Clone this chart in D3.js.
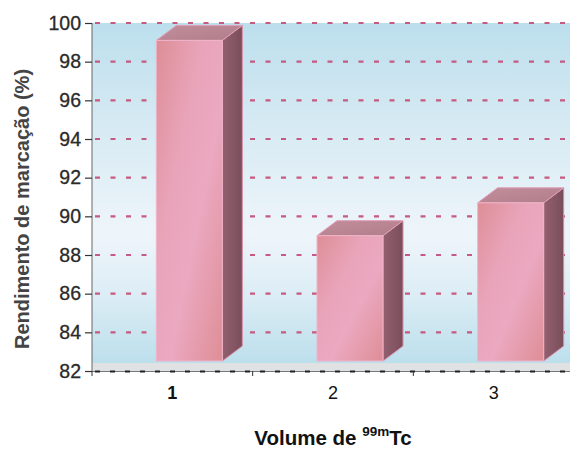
<!DOCTYPE html>
<html>
<head>
<meta charset="utf-8">
<script src="https://cdn.jsdelivr.net/npm/d3@7"></script>
<style>
  html, body { margin: 0; padding: 0; background: #ffffff; }
  svg { display: block; }
</style>
</head>
<body>
<svg id="chart" width="570" height="449"></svg>
<script>
// Labelling yield by 99mTc volume
const categories = ["1", "2", "3"];
const yieldValues = [99.1, 89.0, 90.7];
const yTicks = [82, 84, 86, 88, 90, 92, 94, 96, 98, 100];

(function () {
const svg = d3.select("#chart");
const W = 570, H = 449;
const plotLeft = 92, plotRight = 574, plotTop = 23, plotBottom = 371;
const font = "Arial, 'Liberation Sans', sans-serif";

const x = d3.scaleBand().domain(categories).range([plotLeft, plotRight]).paddingInner(0).paddingOuter(0);
const y = d3.scaleLinear().domain([82, 100]).range([plotBottom, plotTop]);

const depthX = 20, depthY = 15, floorGap = 10;
const barW = 66, barShift = -16;

const defs = svg.append("defs");

// plot background: blue at top, pale in the middle, blue again at the floor
const bg = defs.append("linearGradient").attr("id", "bg").attr("x1", 0).attr("y1", 0).attr("x2", 0).attr("y2", 1);
[[0, "#bcdfed"], [0.3, "#d6eaf3"], [0.62, "#eef5fa"], [0.8, "#dcedf5"], [1, "#bcdfec"]]
  .forEach(([o, c]) => bg.append("stop").attr("offset", o).attr("stop-color", c));

const front = defs.append("linearGradient").attr("id", "front").attr("x1", 0).attr("y1", 0).attr("x2", 1).attr("y2", 1);
[[0, "#dd8e96"], [0.35, "#e9a4ba"], [0.6, "#eba8c0"], [1, "#de8e96"]]
  .forEach(([o, c]) => front.append("stop").attr("offset", o).attr("stop-color", c));

const side = defs.append("linearGradient").attr("id", "side").attr("x1", 0).attr("y1", 0).attr("x2", 1).attr("y2", 0);
[[0, "#93606f"], [1, "#7a4d5b"]]
  .forEach(([o, c]) => side.append("stop").attr("offset", o).attr("stop-color", c));

const topG = defs.append("linearGradient").attr("id", "topface").attr("x1", 0).attr("y1", 0).attr("x2", 1).attr("y2", 1);
[[0, "#c38e9b"], [1, "#b07d8a"]]
  .forEach(([o, c]) => topG.append("stop").attr("offset", o).attr("stop-color", c));

// background panel
svg.append("rect")
  .attr("x", plotLeft).attr("y", plotTop)
  .attr("width", W - plotLeft).attr("height", plotBottom - floorGap + 2 - plotTop)
  .attr("fill", "url(#bg)");

// floor strip
svg.append("rect")
  .attr("x", plotLeft).attr("y", plotBottom - floorGap + 2)
  .attr("width", W - plotLeft).attr("height", floorGap - 2)
  .attr("fill", "#dfe1e3");

// dashed gridlines
svg.append("g")
  .selectAll("line")
  .data(yTicks.filter(t => t > 82))
  .join("line")
  .attr("x1", plotLeft + 3).attr("x2", W)
  .attr("y1", d => y(d)).attr("y2", d => y(d))
  .attr("stroke", "#c65a80")
  .attr("stroke-width", 2.2)
  .attr("stroke-dasharray", "5 10.5");

// 3D bars
const bars = svg.append("g").selectAll("g").data(categories.map((c, i) => ({ c, v: yieldValues[i] }))).join("g");
const base = plotBottom - floorGap;

bars.append("path") // side face
  .attr("d", d => {
    const x0 = x(d.c) + x.bandwidth() / 2 + barShift + barW, yt = y(d.v);
    return `M${x0},${yt}L${x0 + depthX},${yt - depthY}L${x0 + depthX},${base - depthY}L${x0},${base}Z`;
  })
  .attr("fill", "url(#side)")
  .attr("stroke", "#d98ea8").attr("stroke-width", 1);

bars.append("path") // top face
  .attr("d", d => {
    const x0 = x(d.c) + x.bandwidth() / 2 + barShift, yt = y(d.v);
    return `M${x0},${yt}L${x0 + depthX},${yt - depthY}L${x0 + barW + depthX},${yt - depthY}L${x0 + barW},${yt}Z`;
  })
  .attr("fill", "url(#topface)")
  .attr("stroke", "#e0a0b8").attr("stroke-width", 1);

bars.append("rect") // front face
  .attr("x", d => x(d.c) + x.bandwidth() / 2 + barShift)
  .attr("y", d => y(d.v))
  .attr("width", barW)
  .attr("height", d => base - y(d.v))
  .attr("fill", "url(#front)")
  .attr("stroke", "#f0b4ca").attr("stroke-width", 1);

// y axis
const yAxis = svg.append("g")
  .attr("transform", `translate(${plotLeft},0)`)
  .call(d3.axisLeft(y).tickValues(yTicks).tickSize(7).tickPadding(3).tickFormat(d3.format("d")));
yAxis.select(".domain").attr("stroke", "#666").attr("d", `M0,${plotTop}V${plotBottom}`);
yAxis.selectAll(".tick line").attr("stroke", "#333").attr("stroke-width", 1.2);
yAxis.selectAll(".tick text")
  .attr("fill", "#2a2a2a").attr("font-family", font)
  .attr("font-size", 19.5).attr("dx", -1)
  .attr("stroke", "#2a2a2a").attr("stroke-width", 0.3);

// x axis: thin baseline with black dashes and category boundary ticks
svg.append("line")
  .attr("x1", plotLeft).attr("x2", W).attr("y1", plotBottom + 0.5).attr("y2", plotBottom + 0.5)
  .attr("stroke", "#777").attr("stroke-width", 1);
svg.append("line")
  .attr("x1", plotLeft + 3).attr("x2", W).attr("y1", plotBottom + 0.5).attr("y2", plotBottom + 0.5)
  .attr("stroke", "#222").attr("stroke-width", 2)
  .attr("stroke-dasharray", "5 10");

const xAxis = svg.append("g")
  .attr("transform", `translate(0,${plotBottom})`)
  .call(d3.axisBottom(x).tickSize(0).tickPadding(15));
xAxis.select(".domain").remove();
xAxis.selectAll(".tick text")
  .attr("fill", "#111").attr("font-family", font)
  .attr("font-size", 18)
  .attr("font-weight", (d, i) => i === 0 ? "bold" : "normal");

svg.append("g").selectAll("line")
  .data(categories)
  .join("line")
  .attr("x1", d => x(d)).attr("x2", d => x(d))
  .attr("y1", plotBottom).attr("y2", plotBottom + 5)
  .attr("stroke", "#333").attr("stroke-width", 1);

// axis titles
svg.append("text")
  .attr("transform", `translate(29,${(plotTop + plotBottom) / 2 + 12}) rotate(-90)`)
  .attr("text-anchor", "middle")
  .attr("font-family", font)
  .attr("font-size", 20).attr("font-weight", "bold")
  .attr("fill", "#444")
  .text("Rendimento de marcação (%)");

const xt = svg.append("text")
  .attr("x", 333).attr("y", 445)
  .attr("text-anchor", "middle")
  .attr("font-family", font)
  .attr("font-size", 20.5).attr("font-weight", "bold")
  .attr("fill", "#111");
xt.append("tspan").text("Volume de ");
xt.append("tspan").attr("font-size", 13.5).attr("dy", -9).text("99m");
xt.append("tspan").attr("dy", 9).text("Tc");
})();
</script>
</body>
</html>
